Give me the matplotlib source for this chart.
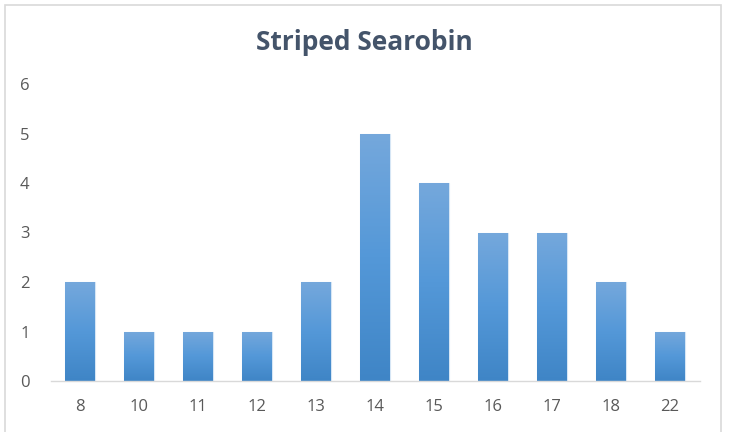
import matplotlib
matplotlib.use("Agg")
import matplotlib.pyplot as plt
import numpy as np
from matplotlib.patches import Rectangle
from matplotlib.colors import LinearSegmentedColormap

categories = ["8", "10", "11", "12", "13", "14", "15", "16", "17", "18", "22"]
values = [2, 1, 1, 1, 2, 5, 4, 3, 3, 2, 1]
yticks = [0, 1, 2, 3, 4, 5, 6]
title = "Striped Searobin"

plt.rcParams['font.family'] = ['Open Sans', 'DejaVu Sans']

W, H = 731, 432
fig = plt.figure(figsize=(W/100, H/100), dpi=100)
fig.patch.set_facecolor("white")

# chart border
fig.patches.append(Rectangle((5/W, -0.05), (721-5)/W, 1 - 5/H + 0.05,
                             transform=fig.transFigure, fill=False,
                             edgecolor="#d9d9d9", linewidth=1.2))

left, right = 50.5/W, 699.5/W
bottom, top = 1 - 381/H, 1 - 84/H
ax = fig.add_axes([left, bottom, right-left, top-bottom])
x = np.arange(len(categories))
bars = ax.bar(x, values, width=0.5, color="#5b9bd5", edgecolor="#d6e6f5", linewidth=0.8, zorder=2)

cmap = LinearSegmentedColormap.from_list("g", ["#3f85c6", "#5498d8", "#75a8dc"])
grad = np.linspace(0, 1, 256).reshape(-1, 1)
for b in bars:
    bx, by = b.get_x(), b.get_y()
    bw, bh = b.get_width(), b.get_height()
    im = ax.imshow(grad, cmap=cmap, extent=[bx, bx+bw, 0, bh], origin="lower",
                   aspect="auto", zorder=2.5)
    im.set_clip_path(b)

ax.set_xlim(-0.5, len(categories)-0.5)
ax.set_ylim(0, 6)
ax.set_xticks(x)
ax.set_xticklabels(categories)
ax.set_yticks(yticks)
for s in ["top", "right", "left"]:
    ax.spines[s].set_visible(False)
ax.spines["bottom"].set_color("#d9d9d9")
ax.spines["bottom"].set_linewidth(1.0)
ax.tick_params(axis="both", length=0, labelsize=12, labelcolor="#595959")
ax.tick_params(axis="x", pad=13)
ax.tick_params(axis="y", pad=15)
ax.set_facecolor("none")

fig.text((256+472)/2/W, 1 - 42/H, title, ha="center", va="center",
         fontsize=19, fontweight="bold", color="#44546a")

fig.savefig("out.png", dpi=100)
